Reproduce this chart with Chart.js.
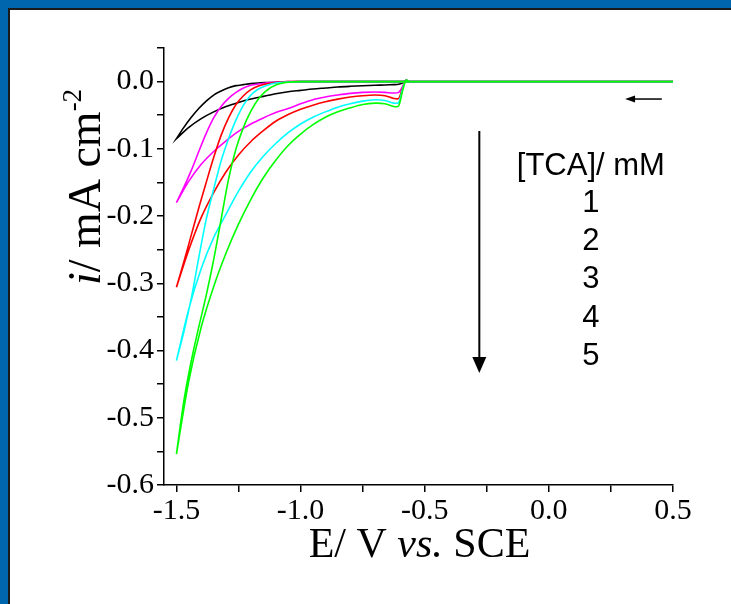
<!DOCTYPE html>
<html><head><meta charset="utf-8">
<script src="https://cdn.jsdelivr.net/npm/chart.js@4"></script>
<style>html,body{margin:0;padding:0;background:#fff;overflow:hidden}#wrap{position:relative;width:731px;height:604px}</style>
</head><body><div id="wrap"><canvas id="c" width="731" height="604"></canvas></div>
<script>
// Potential grids (V vs. SCE): cathodic sweep (0.5 -> -1.5) and return sweep (-1.5 -> 0.5)
const fwdE = [0.5, -0.56, -0.575, -0.59, -0.605, -0.625, -0.66, -0.7, -0.75, -0.8, -0.85, -0.9, -0.95, -1.0, -1.05, -1.1, -1.15, -1.2, -1.25, -1.3, -1.35, -1.4, -1.45, -1.5];
const revE = [-1.5, -1.47, -1.44, -1.41, -1.38, -1.35, -1.32, -1.29, -1.26, -1.23, -1.2, -1.17, -1.14, -1.1, -1.05, -1.0, 0.5];
// Current densities (mA cm-2), [TCA] = 1..5 mM
const fwd1 = [0, 0, 0.002, -0.002, -0.004, -0.0045, -0.005, -0.0055, -0.0062, -0.007, -0.008, -0.0095, -0.011, -0.013, -0.015, -0.018, -0.022, -0.026, -0.031, -0.037, -0.045, -0.055, -0.068, -0.085];
const rev1 = [-0.085, -0.068, -0.053, -0.04, -0.029, -0.02, -0.014, -0.009, -0.006, -0.0045, -0.003, -0.002, -0.0015, -0.001, -0.0005, 0, 0];
const fwd2 = [0, 0, 0.002, -0.008, -0.016, -0.017, -0.016, -0.0155, -0.016, -0.0175, -0.02, -0.023, -0.027, -0.033, -0.04, -0.046, -0.054, -0.063, -0.074, -0.088, -0.104, -0.123, -0.148, -0.18];
const rev2 = [-0.18, -0.157, -0.132, -0.104, -0.077, -0.054, -0.037, -0.025, -0.016, -0.0095, -0.0055, -0.0035, -0.002, -0.001, 0, 0, 0];
const fwd3 = [0, 0, 0.002, -0.01, -0.025, -0.025, -0.021, -0.02, -0.021, -0.023, -0.026, -0.03, -0.035, -0.041, -0.049, -0.059, -0.073, -0.089, -0.109, -0.134, -0.165, -0.202, -0.25, -0.306];
const rev3 = [-0.306, -0.268, -0.228, -0.188, -0.15, -0.113, -0.08, -0.054, -0.034, -0.021, -0.012, -0.0065, -0.0035, -0.0015, 0, 0, 0];
const fwd4 = [0, 0, 0.002, -0.012, -0.031, -0.032, -0.028, -0.027, -0.029, -0.033, -0.038, -0.045, -0.053, -0.063, -0.076, -0.092, -0.111, -0.134, -0.163, -0.197, -0.232, -0.278, -0.338, -0.415];
const rev4 = [-0.415, -0.372, -0.322, -0.262, -0.205, -0.16, -0.118, -0.085, -0.057, -0.035, -0.02, -0.011, -0.006, -0.002, -0.0005, 0, 0];
const fwd5 = [0, 0, 0.002, -0.015, -0.036, -0.037, -0.033, -0.032, -0.034, -0.039, -0.045, -0.053, -0.064, -0.078, -0.095, -0.117, -0.143, -0.175, -0.212, -0.255, -0.305, -0.365, -0.445, -0.554];
const rev5 = [-0.554, -0.475, -0.415, -0.365, -0.318, -0.265, -0.205, -0.145, -0.1, -0.068, -0.044, -0.026, -0.014, -0.005, -0.001, 0, 0];
const seriesColors = ['#000000', '#ff00ff', '#ff0000', '#00ffff', '#00ff00'];
const seriesFwd = [fwd1, fwd2, fwd3, fwd4, fwd5];
const seriesRev = [rev1, rev2, rev3, rev4, rev5];
const xTickValues = [-1.5, -1.25, -1.0, -0.75, -0.5, -0.25, 0.0, 0.25, 0.5];
const yTickValues = [-0.6, -0.55, -0.5, -0.45, -0.4, -0.35, -0.3, -0.25, -0.2, -0.15, -0.1, -0.05, 0.0, 0.05];
const legendTitle = '[TCA]/ mM';
const legendLabels = ['1', '2', '3', '4', '5'];

// annotation placement (data coordinates)
const ANN = {
  legendX: 0.169, legendTitleY: -0.1385, legendY: [-0.1935, -0.25, -0.3065, -0.3646, -0.421],
  downArrow: {x: -0.28, y0: -0.0735, y1: -0.4334},
  scanArrow: {x0: 0.455, x1: 0.307, y: -0.0259}
};

function loop(i) {
  const pts = [];
  fwdE.forEach((e, k) => pts.push({x: e, y: seriesFwd[i][k]}));
  revE.forEach((e, k) => pts.push({x: e, y: seriesRev[i][k]}));
  return pts;
}
const datasets = seriesColors.map((c, i) => ({
  label: legendLabels[i], data: loop(i), borderColor: c, backgroundColor: c,
  borderWidth: 1.6, pointRadius: 0, showLine: true, tension: 0.3, fill: false,
  order: seriesColors.length - i
}));

const SERIF = '"Liberation Serif", "Times New Roman", serif';
const SANS = '"Liberation Sans", Arial, sans-serif';

function isMajor(v, step) { return Math.abs(v / step - Math.round(v / step)) < 1e-6; }

function drawRich(ctx, parts, x, y) {
  let w = 0;
  parts.forEach(p => { ctx.font = p.font; w += ctx.measureText(p.t).width; });
  let cx = x - w / 2;
  parts.forEach(p => { ctx.font = p.font; ctx.fillText(p.t, cx, y + (p.dy || 0)); cx += ctx.measureText(p.t).width; });
}

const decor = {
  id: 'decor',
  beforeDraw(chart) {
    const ctx = chart.ctx;
    ctx.save();
    ctx.fillStyle = '#fff'; ctx.fillRect(0, 0, chart.width, chart.height);
    ctx.fillStyle = '#0066ad';
    ctx.fillRect(0, 0, chart.width, 8);
    ctx.fillRect(0, 0, 8, chart.height);
    ctx.fillStyle = '#1a1a1a';
    ctx.fillRect(8, 8, chart.width - 8, 2);
    ctx.fillRect(8, 8, 2, chart.height - 8);
    ctx.restore();
  },
  afterDraw(chart) {
    const ctx = chart.ctx, xs = chart.scales.x, ys = chart.scales.y, ca = chart.chartArea;
    ctx.save();
    ctx.fillStyle = '#000'; ctx.strokeStyle = '#000';
    ctx.textBaseline = 'alphabetic'; ctx.textAlign = 'left';
    // x title
    drawRich(ctx, [
      {t: 'E/ V ', font: '42px ' + SERIF},
      {t: 'vs.', font: 'italic 42px ' + SERIF},
      {t: ' SCE', font: '42px ' + SERIF}
    ], (ca.left + ca.right) / 2 + 1, 557);
    // y title
    ctx.save();
    ctx.translate(100, 187);
    ctx.rotate(-Math.PI / 2);
    drawRich(ctx, [
      {t: 'i', font: 'italic 46px ' + SERIF},
      {t: '/ mA cm', font: '46px ' + SERIF},
      {t: '-2', font: '27px ' + SERIF, dy: -19}
    ], 0, 0);
    ctx.restore();
    // legend text
    ctx.textAlign = 'center';
    ctx.font = '31px ' + SANS;
    const lx = xs.getPixelForValue(ANN.legendX);
    ctx.fillText(legendTitle, lx, ys.getPixelForValue(ANN.legendTitleY));
    legendLabels.forEach((t, i) => ctx.fillText(t, lx, ys.getPixelForValue(ANN.legendY[i])));
    // down arrow
    const ax = xs.getPixelForValue(ANN.downArrow.x);
    const ay0 = ys.getPixelForValue(ANN.downArrow.y0), ay1 = ys.getPixelForValue(ANN.downArrow.y1);
    ctx.lineWidth = 2;
    ctx.beginPath(); ctx.moveTo(ax, ay0); ctx.lineTo(ax, ay1 - 12); ctx.stroke();
    ctx.beginPath(); ctx.moveTo(ax, ay1); ctx.lineTo(ax - 7, ay1 - 16); ctx.lineTo(ax + 7, ay1 - 16); ctx.closePath(); ctx.fill();
    // scan arrow
    const sx0 = xs.getPixelForValue(ANN.scanArrow.x0), sx1 = xs.getPixelForValue(ANN.scanArrow.x1);
    const sy = ys.getPixelForValue(ANN.scanArrow.y);
    ctx.lineWidth = 1.5;
    ctx.beginPath(); ctx.moveTo(sx0, sy); ctx.lineTo(sx1 + 6, sy); ctx.stroke();
    ctx.beginPath(); ctx.moveTo(sx1, sy); ctx.lineTo(sx1 + 10, sy - 3.5); ctx.lineTo(sx1 + 10, sy + 3.5); ctx.closePath(); ctx.fill();
    ctx.restore();
  }
};

new Chart(document.getElementById('c'), {
  type: 'scatter',
  data: {datasets},
  options: {
    responsive: false, animation: false, devicePixelRatio: 1,
    layout: {padding: {top: 48, right: 58, left: 0, bottom: 0}},
    plugins: {legend: {display: false}, tooltip: {enabled: false}},
    scales: {
      x: {
        type: 'linear', min: -1.55, max: 0.5,
        afterBuildTicks: s => { s.ticks = xTickValues.map(v => ({value: v})); },
        afterFit: s => { s.height = 119; },
        ticks: {autoSkip: false, maxRotation: 0, padding: 1, color: '#000',
          font: {family: SERIF, size: 30},
          callback: v => isMajor(v, 0.5) ? (Math.abs(v) < 1e-9 ? '0.0' : v.toFixed(1)) : ''},
        grid: {drawOnChartArea: false, drawTicks: true, tickLength: 7, color: '#000', lineWidth: 1.5},
        border: {display: true, color: '#000', width: 1.5}
      },
      y: {
        type: 'linear', min: -0.6, max: 0.05,
        afterBuildTicks: s => { s.ticks = yTickValues.map(v => ({value: v})); },
        afterFit: s => { s.width = 164; },
        ticks: {autoSkip: false, padding: 3, color: '#000',
          font: {family: SERIF, size: 30},
          callback: v => isMajor(v, 0.1) ? (Math.abs(v) < 1e-9 ? '0.0' : v.toFixed(1)) : ''},
        grid: {drawOnChartArea: false, drawTicks: true, tickLength: 7, color: '#000', lineWidth: 1.5},
        border: {display: true, color: '#000', width: 1.5}
      }
    }
  },
  plugins: [decor]
});
</script>
</body></html>
